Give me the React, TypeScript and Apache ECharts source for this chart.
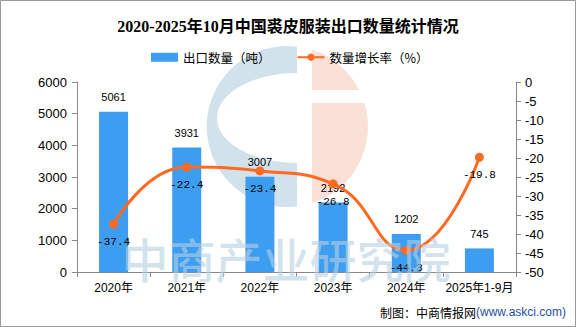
import React, { useEffect, useRef } from "react";
import * as echarts from "echarts";

const categories = ["2020年", "2021年", "2022年", "2023年", "2024年", "2025年1-9月"];
const exportVolume = [5061, 3931, 3007, 2192, 1202, 745];
const growthRate = [-37.4, -22.4, -23.4, -26.8, -44.3, -19.8];
const leftTicks = { min: 0, max: 6000, interval: 1000 };
const rightTicks = { min: -50, max: 0, interval: 5 };

const titleText = "2020-2025年10月中国裘皮服装出口数量统计情况";
const barName = "出口数量（吨）";
const lineName = "数量增长率（%）";

const BLUE_LOGO =
  "M297,46.6 A80.5,80.5 0 1 0 297,206.4 L297,163 A80,45 0 0 1 297,73 Z";
const PEACH_TOP = "M312,49.8 A80.5,80.5 0 0 1 359.2,90 L312,90 Z";
const PEACH_BOTTOM = "M312,103 L364.5,103 A80.5,80.5 0 0 1 312,203.2 Z";

export default function App() {
  const ref = useRef<HTMLDivElement>(null);

  useEffect(() => {
    if (!ref.current) return;
    echarts.graphic.registerShape("logoBlue", echarts.graphic.extendPath(BLUE_LOGO, {}));
    echarts.graphic.registerShape("logoPeachTop", echarts.graphic.extendPath(PEACH_TOP, {}));
    echarts.graphic.registerShape("logoPeachBottom", echarts.graphic.extendPath(PEACH_BOTTOM, {}));
    const chart = echarts.init(ref.current, null, { renderer: "svg" });
    const axisColor = "#888";
    const option: any = {
      animation: false,
      backgroundColor: "#fff",
      title: {
        text: titleText,
        left: "center",
        top: 13,
        textStyle: {
          fontSize: 16,
          fontWeight: "bold",
          color: "#000",
          fontFamily: "'Liberation Serif', 'Noto Sans CJK SC', serif",
        },
      },
      legend: {
        top: 46,
        left: 146,
        itemWidth: 27,
        itemHeight: 9,
        itemGap: 26,
        textStyle: { fontSize: 12.5, color: "#000", fontFamily: "'Noto Sans CJK SC', sans-serif" },
        data: [
          { name: barName, icon: "rect" },
          { name: lineName },
        ],
      },
      grid: { left: 77, right: 60, top: 82, bottom: 55, containLabel: false },
      xAxis: {
        type: "category",
        data: categories,
        axisLine: { lineStyle: { color: axisColor } },
        axisTick: { show: true, length: 5, lineStyle: { color: axisColor } },
        axisLabel: {
          interval: 0,
          margin: 10,
          fontSize: 12,
          color: "#000",
          fontFamily: "'Liberation Sans', 'Noto Sans CJK SC', sans-serif",
        },
      },
      yAxis: [
        {
          type: "value",
          min: leftTicks.min,
          max: leftTicks.max,
          interval: leftTicks.interval,
          axisLine: { show: true, lineStyle: { color: axisColor } },
          axisTick: { show: true, length: 5, lineStyle: { color: axisColor } },
          splitLine: { show: false },
          axisLabel: {
            margin: 10,
            fontSize: 13,
            color: "#000",
            fontFamily: "'Liberation Sans', sans-serif",
            formatter: (v: number) => String(v),
          },
        },
        {
          type: "value",
          position: "right",
          min: rightTicks.min,
          max: rightTicks.max,
          interval: rightTicks.interval,
          axisLine: { show: true, lineStyle: { color: axisColor } },
          axisTick: { show: true, length: 5, lineStyle: { color: axisColor } },
          splitLine: { show: false },
          axisLabel: {
            margin: 9,
            fontSize: 13,
            color: "#000",
            fontFamily: "'Liberation Sans', sans-serif",
            formatter: (v: number) => String(v),
          },
        },
      ],
      series: [
        {
          name: barName,
          type: "bar",
          yAxisIndex: 0,
          data: exportVolume,
          barWidth: 29,
          z: 2,
          itemStyle: { color: "#3D9DF0" },
          label: {
            show: true,
            position: "top",
            distance: 9,
            fontSize: 11,
            color: "#000",
            fontFamily: "'Liberation Sans', sans-serif",
          },
        },
        {
          name: lineName,
          type: "line",
          yAxisIndex: 1,
          data: growthRate,
          smooth: true,
          symbol: "circle",
          symbolSize: 9,
          z: 3,
          lineStyle: { width: 3, color: "#FF6A21" },
          itemStyle: { color: "#FF6A21" },
          label: {
            show: true,
            position: "bottom",
            distance: 8,
            fontSize: 11,
            color: "#000",
            fontFamily: "'Liberation Mono', monospace",
          },
        },
      ],
      graphic: [
        {
          type: "logoBlue",
          x: 0,
          y: 0,
          z: 0,
          silent: true,
          style: { fill: "#d2e2ec" },
        },
        {
          type: "logoPeachTop",
          x: 0,
          y: 0,
          z: 0,
          silent: true,
          style: { fill: "#fae1d7" },
        },
        {
          type: "logoPeachBottom",
          x: 0,
          y: 0,
          z: 0,
          silent: true,
          style: { fill: "#fae1d7" },
        },
        {
          type: "text",
          x: 286,
          y: 257,
          z: 10,
          silent: true,
          style: {
            text: "中商产业研究院",
            fill: "rgba(182,208,226,0.6)",
            fontSize: 47,
            fontWeight: 500,
            fontFamily: "'Noto Sans CJK SC', sans-serif",
            align: "center",
            verticalAlign: "middle",
          },
        },
        {
          type: "text",
          x: 566,
          y: 312,
          z: 10,
          silent: true,
          style: {
            text: "{a|制图：中商情报网}{b|(www.askci.com)}",
            align: "right",
            verticalAlign: "middle",
            rich: {
              a: { fontSize: 12, fill: "#000", fontFamily: "'Noto Sans CJK SC', sans-serif" },
              b: { fontSize: 12, fill: "#1f4ea0", fontFamily: "'Liberation Sans', sans-serif" },
            },
          },
        },
        {
          type: "rect",
          z: 20,
          silent: true,
          shape: { x: 0.5, y: 0.5, width: 575, height: 326 },
          style: { fill: "none", stroke: "#999", lineWidth: 1 },
        },
      ],
    };
    chart.setOption(option);
    return () => chart.dispose();
  }, []);

  return (
    <div
      ref={ref}
      style={{ position: "fixed", left: 0, top: 0, width: 576, height: 327 }}
    />
  );
}
